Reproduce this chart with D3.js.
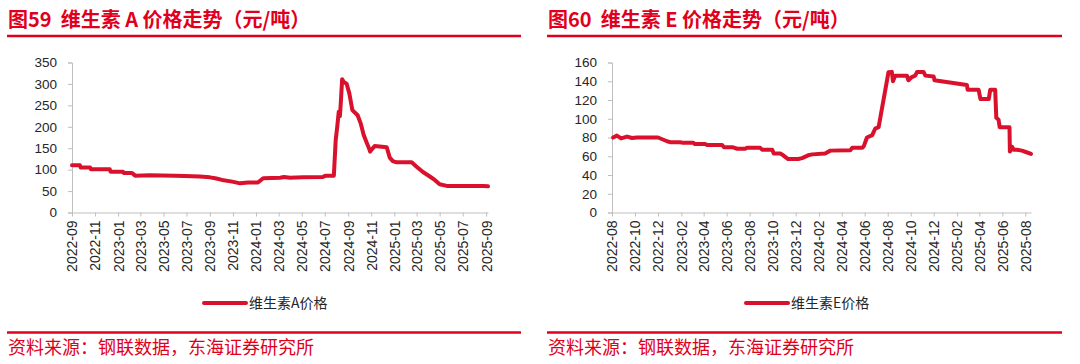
<!DOCTYPE html>
<html><head><meta charset="utf-8">
<script src="https://cdn.jsdelivr.net/npm/d3@7"></script>
<style>
body{margin:0;background:#fff;}
svg{display:block;}
</style></head>
<body>
<svg id="c" width="1080" height="364"></svg>
<script>
// ---- Data: 维生素A价格 (元/吨) ----
const vaDates = ["2022-09-01","2022-09-22","2022-09-24","2022-10-19","2022-10-21","2022-12-10","2022-12-12","2023-01-14","2023-01-16","2023-02-07","2023-02-15","2023-03-26","2023-05-31","2023-06-26","2023-08-05","2023-09-01","2023-09-15","2023-10-03","2023-10-30","2023-11-20","2023-12-11","2024-01-06","2024-01-20","2024-03-05","2024-03-15","2024-03-31","2024-05-04","2024-06-26","2024-07-04","2024-07-25","2024-07-30","2024-08-03","2024-08-07","2024-08-10","2024-08-12","2024-08-16","2024-08-20","2024-08-28","2024-09-04","2024-09-12","2024-09-26","2024-10-04","2024-10-12","2024-10-19","2024-10-26","2024-10-29","2024-11-03","2024-11-10","2024-12-12","2024-12-20","2024-12-28","2025-01-07","2025-02-16","2025-03-01","2025-03-17","2025-04-05","2025-04-18","2025-05-01","2025-05-20","2025-08-24","2025-09-06"];
const vaValues = [110,110,105,105,101,101,95,95,92,92,86,87,86,85,84,82,80,76,72,68,70,70,80,81,83,81,82,83,86,86,170,200,235,225,250,311,305,300,278,239,227,208,181,165,150,142,148,155,152,128,120,117,117,107,95,84,76,66,62,62,61];

// ---- Data: 维生素E价格 (元/吨) ----
const veDates = ["2022-08-04","2022-08-14","2022-08-25","2022-09-10","2022-09-23","2022-10-06","2022-12-01","2022-12-25","2023-01-02","2023-01-28","2023-02-03","2023-03-04","2023-03-09","2023-04-05","2023-04-10","2023-05-20","2023-05-25","2023-06-18","2023-06-29","2023-07-20","2023-07-25","2023-08-29","2023-09-03","2023-09-30","2023-10-04","2023-10-21","2023-10-29","2023-11-11","2023-12-08","2023-12-18","2024-01-03","2024-01-14","2024-02-17","2024-03-02","2024-04-24","2024-04-29","2024-05-26","2024-05-30","2024-06-07","2024-06-21","2024-06-29","2024-07-08","2024-08-03","2024-08-12","2024-08-15","2024-08-21","2024-09-21","2024-09-25","2024-10-04","2024-10-13","2024-10-18","2024-11-04","2024-11-09","2024-12-01","2024-12-03","2025-02-27","2025-03-01","2025-03-30","2025-04-04","2025-04-26","2025-04-30","2025-05-13","2025-05-16","2025-05-22","2025-05-25","2025-06-20","2025-06-21","2025-06-27","2025-07-01","2025-07-10","2025-07-23","2025-08-06","2025-08-16"];
const veValues = [80,82,79,81,79.5,80,80,76,75,75,74.5,74.5,73,73,72,72,69.5,69.5,68,68,69,69,67,67,63,63,61,57,57,58,61,62,63,66,66.5,69,69,71,80,82.5,89.5,91,149.5,150,140,146,146,141,144.5,146,150,150,146,145,141,136,131,131,121,121,131,131,101,99,91,91,65,70,67,67,66,64,62.5];

// ---- Axis/labels ----
const vaTicksY = [0,50,100,150,200,250,300,350];
const veTicksY = [0,20,40,60,80,100,120,140,160];
const vaTitle = "图59  维生素 A 价格走势（元/吨）";
const veTitle = "图60  维生素 E 价格走势（元/吨）";
const vaLegend = "维生素A价格";
const veLegend = "维生素E价格";
const sourceText = "资料来源：钢联数据，东海证券研究所";
const vaDomain = ["2022-09-01","2025-09-06"];
const veDomain = ["2022-08-01","2025-08-16"];
const vaTickCount = 19;   // 2022-09 ... 2025-09, every 2 months
const veTickCount = 19;   // 2022-08 ... 2025-08, every 2 months

const RED = "#e1001c";
const LINE = "#d9112c";
const AXIS = "#bfbfbf";
const TXT = "#262626";
const CJK = "'Noto Sans CJK SC','Noto Sans',sans-serif";
const LAT = "'Liberation Sans',Arial,sans-serif";

const parse = d3.timeParse("%Y-%m-%d");
const svg = d3.select("#c");

function panel(cfg){
  const g = svg.append("g").attr("transform", `translate(${cfg.ox},0)`);
  // title
  g.append("text").attr("x", 8).attr("y", 27)
    .attr("fill", RED).attr("font-family", CJK).attr("font-weight", "bold")
    .attr("font-size", 20).style("white-space","pre").text(cfg.title);
  g.append("line").attr("x1", 7).attr("x2", cfg.rule).attr("y1", 36).attr("y2", 36)
    .attr("stroke", RED).attr("stroke-width", 2.5);
  g.append("line").attr("x1", 7).attr("x2", cfg.rule).attr("y1", 332.5).attr("y2", 332.5)
    .attr("stroke", RED).attr("stroke-width", 2.5);
  g.append("text").attr("x", 8).attr("y", 354)
    .attr("fill", RED).attr("font-family", CJK).attr("font-size", 18).text(sourceText);

  const x = d3.scaleTime().domain(cfg.domain.map(parse)).range([72, cfg.xEnd]);
  const y = d3.scaleLinear().domain([0, cfg.yMax]).range([212.5, 62.5]);

  // y axis
  const ya = g.append("g").attr("transform","translate(72,0)")
    .call(d3.axisLeft(y).tickValues(cfg.yTicks).tickSize(4).tickPadding(11));
  ya.select(".domain").attr("stroke", AXIS);
  ya.selectAll(".tick line").attr("stroke", AXIS);
  ya.selectAll("text").attr("fill", TXT).attr("font-family", LAT).attr("font-size", 13.5);

  // x axis
  const start = parse(cfg.domain[0]);
  const ticks = d3.range(cfg.tickCount).map(i => d3.timeMonth.offset(start, 2*i));
  const xa = g.append("g").attr("transform","translate(0,212.5)")
    .call(d3.axisBottom(x).tickValues(ticks).tickFormat(d3.timeFormat("%Y-%m")).tickSize(4).tickSizeOuter(0));
  xa.select(".domain").attr("stroke", AXIS);
  xa.selectAll(".tick line").attr("stroke", AXIS);
  xa.selectAll("text").attr("fill", TXT).attr("font-family", LAT).attr("font-size", 14)
    .attr("transform","rotate(-90)").attr("text-anchor","end")
    .attr("x", -8).attr("y", 0).attr("dy", "0.35em");

  // line
  const data = cfg.dates.map((d,i)=>({d:parse(d), v:cfg.values[i]}));
  g.append("path").datum(data)
    .attr("fill","none").attr("stroke", LINE).attr("stroke-width", 4)
    .attr("stroke-linejoin","round").attr("stroke-linecap","round")
    .attr("d", d3.line().x(p=>x(p.d)).y(p=>y(p.v)));

  // legend
  g.append("line").attr("x1", cfg.lg).attr("x2", cfg.lg+42).attr("y1", 303).attr("y2", 303)
    .attr("stroke", LINE).attr("stroke-width", 4).attr("stroke-linecap","round");
  g.append("text").attr("x", cfg.lg+45).attr("y", 308)
    .attr("fill", TXT).attr("font-family", CJK).attr("font-size", 14).text(cfg.legend);
}

panel({ox:0, title:vaTitle, rule:521, domain:vaDomain, xEnd:488, yMax:350, yTicks:vaTicksY, tickCount:vaTickCount,
  dates:vaDates, values:vaValues, legend:vaLegend, lg:204});
panel({ox:540, title:veTitle, rule:522, domain:veDomain, xEnd:491, yMax:160, yTicks:veTicksY, tickCount:veTickCount,
  dates:veDates, values:veValues, legend:veLegend, lg:206});
</script>
</body></html>
